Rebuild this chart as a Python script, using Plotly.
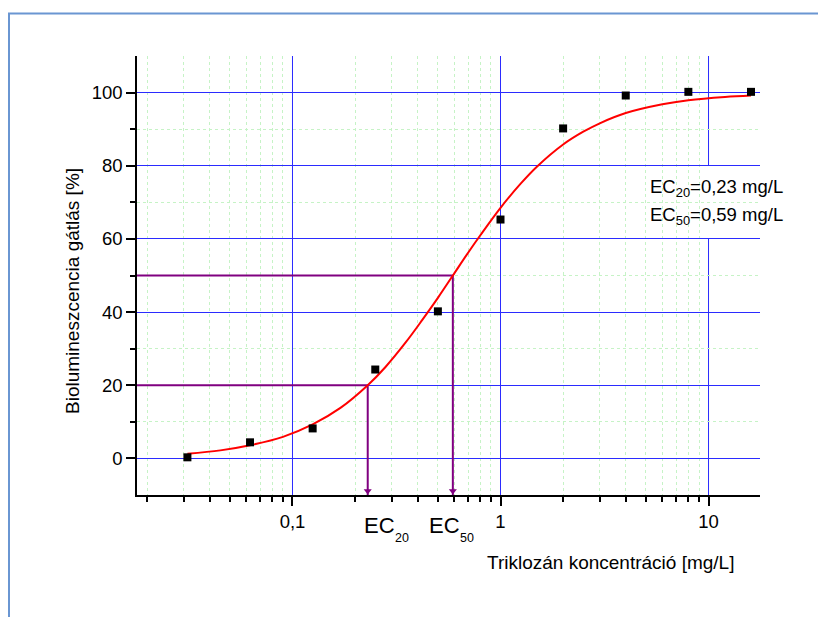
import plotly.graph_objects as go

# ---------------- data ----------------
conc = [0.03125, 0.0625, 0.125, 0.25, 0.5, 1, 2, 4, 8, 16]
inhibition = [0.3, 4.4, 8.2, 24.3, 40.2, 65.3, 90.2, 99.2, 100.2, 100.2]

fit_x = [0.03125, 0.045, 0.0625, 0.09, 0.125, 0.17, 0.23, 0.28, 0.35, 0.42, 0.5,
         0.59, 0.7, 0.8, 1, 1.25, 1.5, 2, 2.5, 3, 4, 6, 8, 12, 16]
fit_y = [1.3, 2.2, 3.6, 5.9, 9.3, 13.8, 20, 25.0, 31.7, 37.8, 43.9,
         50, 56.3, 61.0, 68.5, 75.1, 79.8, 85.8, 89.3, 91.6, 94.4, 96.8, 97.9, 98.8, 99.2]

ec_names = ["20", "50"]
ec_conc = [0.23, 0.59]
ec_level = [20, 50]

x_major = [0.1, 1, 10]
x_major_text = ["0,1", "1", "10"]
x_minor = [0.02, 0.03, 0.04, 0.05, 0.06, 0.07, 0.08, 0.09,
           0.2, 0.3, 0.4, 0.5, 0.6, 0.7, 0.8, 0.9,
           2, 3, 4, 5, 6, 7, 8, 9]
y_major = [0, 20, 40, 60, 80, 100]
y_minor = [10, 30, 50, 70, 90]

x_title = "Triklozán koncentráció [mg/L]"
y_title = "Biolumineszcencia gátlás [%]"
box_lines = ["EC<sub>20</sub>=0,23 mg/L", "EC<sub>50</sub>=0,59 mg/L"]

# ---------------- layout geometry (page pixels; page has an 8px body margin) ----------------
OFF = 8
W, H = 826 - OFF, 617 - OFF
L, R, T, B = 137, 760, 56, 495  # plot area in page pixels
XR = [-1.7475, 1.2475]
YR = [-10, 110]
FONT = "Liberation Sans, Arial, sans-serif"
PURPLE = "#800080"
BLUE = "#2b2bff"
GREEN = "#c6f3c6"


def px(xp):
    return (xp - L) / (R - L)


def py(yp):
    return (B - yp) / (B - T)


fig = go.Figure()

# purple drop lines
xmin = 10 ** XR[0]
for c, lv in zip(ec_conc, ec_level):
    fig.add_trace(go.Scatter(x=[xmin, c, c], y=[lv, lv, YR[0]], mode="lines",
                             line=dict(color=PURPLE, width=2), hoverinfo="skip",
                             showlegend=False))
# arrow heads
fig.add_trace(go.Scatter(x=ec_conc, y=[YR[0] + 1.1] * len(ec_conc), mode="markers",
                         marker=dict(symbol="triangle-down", size=7, color=PURPLE,
                                     line=dict(width=0)),
                         hoverinfo="skip", showlegend=False))

# fitted curve
fig.add_trace(go.Scatter(x=fit_x, y=fit_y, mode="lines",
                         line=dict(color="#ff0000", width=2, shape="spline"),
                         showlegend=False))
# data points
fig.add_trace(go.Scatter(x=conc, y=inhibition, mode="markers",
                         marker=dict(symbol="square", size=8, color="#000000"),
                         showlegend=False))

# major vertical grid lines (blue, drawn over the dotted minor grid)
for xv in x_major:
    fig.add_shape(type="line", xref="x", yref="paper", x0=xv, x1=xv, y0=0, y1=1,
                  line=dict(color=BLUE, width=1), layer="between")

# white box behind the text
fig.add_shape(type="rect", xref="paper", yref="paper", x0=px(638), x1=px(790),
              y0=py(238), y1=py(165), fillcolor="white", line=dict(width=0), layer="between")

# outer light-blue frame
fig.add_shape(type="rect", xref="paper", yref="paper", x0=px(9), x1=px(900),
              y0=py(700), y1=py(13.5), line=dict(color="#6a96d2", width=2),
              fillcolor="rgba(0,0,0,0)", layer="below")

ann = []
# box text
for i, t in enumerate(box_lines):
    ann.append(dict(text=t, xref="paper", yref="paper", x=px(648), y=py(188 + 28 * i),
                    xanchor="left", yanchor="middle", showarrow=False,
                    font=dict(size=18.5, color="black", family=FONT)))
# EC labels below axis
ec_left = [361.7, 427]
for name, xl in zip(ec_names, ec_left):
    ann.append(dict(text="EC", xref="paper", yref="paper", x=px(xl), y=py(525),
                    xanchor="left", yanchor="middle", showarrow=False,
                    font=dict(size=22, color="black", family=FONT)))
    ann.append(dict(text=name, xref="paper", yref="paper", x=px(xl + 31), y=py(538),
                    xanchor="left", yanchor="middle", showarrow=False,
                    font=dict(size=12.5, color="black", family=FONT)))
# axis titles
ann.append(dict(text=x_title, xref="paper", yref="paper", x=px(610), y=py(562),
                xanchor="center", yanchor="middle", showarrow=False,
                font=dict(size=19, color="black", family=FONT)))
ann.append(dict(text=y_title, xref="paper", yref="paper", x=px(72), y=py(291),
                xanchor="center", yanchor="middle", showarrow=False, textangle=-90,
                font=dict(size=19, color="black", family=FONT)))

fig.update_layout(
    width=W, height=H,
    margin=dict(l=L - OFF, r=826 - R, t=T - OFF, b=617 - B, pad=0),
    paper_bgcolor="white", plot_bgcolor="white",
    font=dict(family=FONT, size=18, color="black"),
    annotations=ann,
    showlegend=False,
)

fig.update_xaxes(
    type="log", range=XR,
    tickmode="array", tickvals=x_major, ticktext=x_major_text,
    ticks="outside", ticklen=9, tickwidth=1.5, tickcolor="black",
    showline=True, linecolor="black", linewidth=1.5, mirror=False,
    showgrid=False,
    zeroline=False,
    tickfont=dict(size=18.5, family=FONT, color="black"),
    minor=dict(tickmode="array", tickvals=x_minor, ticks="outside", ticklen=5,
               tickwidth=1.5, tickcolor="black", showgrid=True,
               gridcolor=GREEN, gridwidth=1, griddash="dot"),
)
fig.update_yaxes(
    range=YR,
    tickmode="array", tickvals=y_major, ticktext=[str(v) for v in y_major],
    ticks="outside", ticklen=9, tickwidth=1.5, tickcolor="black",
    showline=True, linecolor="black", linewidth=1.5, mirror=False,
    showgrid=True, gridcolor=BLUE, gridwidth=1,
    zeroline=False,
    tickfont=dict(size=18.5, family=FONT, color="black"),
    minor=dict(tickmode="array", tickvals=y_minor, ticks="outside", ticklen=5,
               tickwidth=1.5, tickcolor="black", showgrid=True,
               gridcolor=GREEN, gridwidth=1, griddash="dot"),
)

fig.write_html("out.html")
